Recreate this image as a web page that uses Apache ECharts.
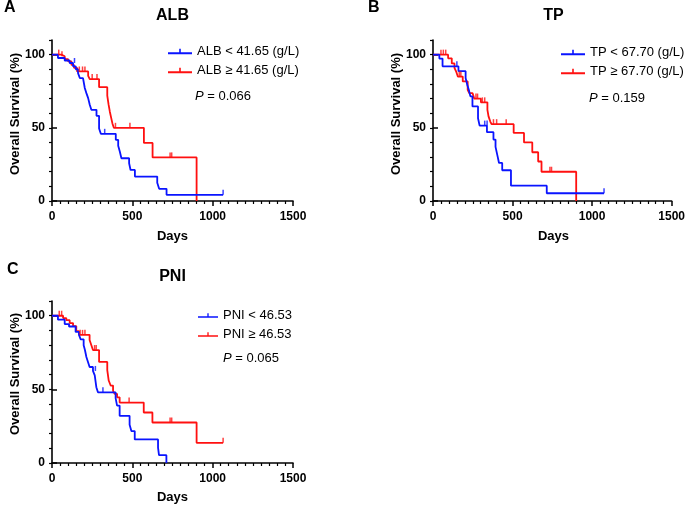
<!DOCTYPE html>
<html>
<head>
<meta charset="utf-8">
<title>Overall survival</title>
<script src="https://cdn.jsdelivr.net/npm/echarts@6/dist/echarts.min.js"></script>
<style>
    html, body { margin: 0; padding: 0; background: #fff; }
    #main { width: 688px; height: 506px; }
</style>
</head>
<body>
<div id="main"></div>
<script>
    // panel texts
    var panelTitles = ['ALB', 'TP', 'PNI'];
    var panelLetters = ['A', 'B', 'C'];
    var lowNames = ['ALB < 41.65 (g/L)', 'TP < 67.70 (g/L)', 'PNI < 46.53'];
    var highNames = ['ALB ≥ 41.65 (g/L)', 'TP ≥ 67.70 (g/L)', 'PNI ≥ 46.53'];
    var pValues = ['0.066', '0.159', '0.065'];
    var xTickValues = [0, 500, 1000, 1500];
    var yTickValues = [0, 50, 100];

    // KM steps: [day, survival %] after each drop
    var albLow = [[0, 100], [37, 97.7], [79, 96], [110, 94.3], [131, 92], [148, 90], [162, 87.4], [173, 84], [193, 82.9],
        [204, 77.2], [214, 73.7], [225, 70.3], [235, 65.8], [245, 62.3], [277, 58.2], [293, 49.5], [304, 45.9],
        [397, 41.8], [412, 37.7], [422, 33.8], [432, 29.2], [480, 25.8], [489, 21.2], [516, 16.7], [655, 12.5],
        [667, 8.3], [713, 4.2], [1065, 4.2]];
    var albHigh = [[0, 100], [58, 98.9], [79, 97], [100, 95.4], [121, 93], [137, 91], [156, 88.5], [225, 85.5],
        [235, 83.3], [293, 77.8], [344, 72], [352, 66], [360, 61], [368, 57], [376, 53], [385, 50], [572, 39.7],
        [626, 29.8], [900, 0]];
    var albLowCensor = [[140, 94.3], [328, 45.9], [1065, 4.2]];
    var albHighCensor = [[42, 100], [62, 98.9], [170, 88.5], [190, 88.5], [205, 88.5], [250, 83.3], [280, 83.3],
        [395, 50], [485, 50], [735, 29.8], [745, 29.8]];

    var tpLow = [[0, 100], [40, 97.3], [60, 92], [160, 88.7], [205, 84], [215, 79.5], [225, 76], [235, 71.5],
        [248, 64.6], [283, 56.5], [293, 51.5], [339, 47], [380, 42], [393, 37], [405, 31], [415, 26], [435, 21],
        [490, 10.5], [715, 5.3], [1075, 5.3]];
    var tpHigh = [[0, 100], [95, 97.5], [118, 94], [135, 91], [145, 88.6], [156, 85], [187, 81.7], [218, 76],
        [228, 73.7], [249, 72.6], [259, 70], [301, 67.4], [342, 62.3], [349, 57.8], [360, 54.3], [368, 52.5],
        [507, 46.5], [572, 40], [624, 33.3], [661, 27], [682, 20], [900, 0]];
    var tpLowCensor = [[150, 92], [325, 51.5], [340, 51.5], [1075, 5.3]];
    var tpHighCensor = [[50, 100], [65, 100], [80, 100], [165, 85], [175, 85], [270, 70], [280, 70], [310, 67.4],
        [325, 67.4], [380, 52.5], [400, 52.5], [460, 52.5], [735, 20], [745, 20]];

    var pniLow = [[0, 100], [37, 97.3], [79, 94.3], [106, 92.7], [147, 89], [168, 87], [178, 84], [197, 80],
        [205, 76.7], [214, 72], [224, 68.6], [234, 65.2], [255, 62.5], [266, 59.5], [276, 51.5], [286, 48],
        [396, 44], [405, 39], [421, 32], [483, 26], [494, 21.7], [515, 16], [660, 10.5], [666, 5.3], [712, 0]];
    var pniHigh = [[0, 100], [69, 98.4], [89, 97], [110, 95], [131, 93], [151, 89.5], [168, 87], [234, 83.5],
        [245, 80], [255, 76.7], [293, 68.6], [344, 63], [353, 56], [365, 52.6], [380, 49], [390, 47], [405, 44.6],
        [421, 41], [571, 34.3], [625, 27.5], [900, 13.7], [1065, 13.7]];
    var pniLowCensor = [[270, 62.5], [317, 48]];
    var pniHighCensor = [[45, 100], [60, 100], [175, 87], [190, 87], [205, 87], [265, 76.7], [275, 76.7],
        [480, 41], [735, 27.5], [745, 27.5], [1065, 13.7]];

    var lowCurves = [albLow, tpLow, pniLow];
    var highCurves = [albHigh, tpHigh, pniHigh];
    var lowCensors = [albLowCensor, tpLowCensor, pniLowCensor];
    var highCensors = [albHighCensor, tpHighCensor, pniHighCensor];

    var BLUE = '#0a14ff';
    var RED = '#ff1010';
    var FONT = 'Liberation Sans, Arial, sans-serif';

    var grids = [
        {left: 52, top: 40, width: 241, height: 161},
        {left: 433, top: 40, width: 241, height: 161},
        {left: 52, top: 301, width: 241, height: 162}
    ];
    var legendPos = [[168, 45], [561, 46], [198, 309]];
    var pPos = [[195, 96], [589, 98], [223, 358]];
    var letterPos = [[4, 8], [368, 8], [7, 270]];
    var titleY = [16, 16, 277];
    var daysY = [236, 236, 497];
    var yNameX = [15, 396, 15];
    var yNameY = [114, 114, 374];

    var xAxes = [], yAxes = [], series = [], legends = [], graphics = [];
    var axisColor = '#000';

    for (var i = 0; i < 3; i++) {
        xAxes.push({
            gridIndex: i, type: 'value', min: 0, max: 1500, interval: 500,
            axisLine: {lineStyle: {color: axisColor, width: 1.6}},
            axisTick: {length: 5, lineStyle: {color: axisColor, width: 1.5}},
            minorTick: {show: true, splitNumber: 10, length: 3, lineStyle: {color: axisColor, width: 1.2}},
            axisLabel: {
                color: '#000', fontWeight: 'bold', fontSize: 12, fontFamily: FONT, margin: 10,
                formatter: function (v) { return xTickValues.indexOf(v) >= 0 ? v : ''; }
            },
            splitLine: {show: false}, minorSplitLine: {show: false}
        });
        yAxes.push({
            gridIndex: i, type: 'value', min: 0, max: 110, interval: 10,
            axisLine: {onZero: false, lineStyle: {color: axisColor, width: 1.6}},
            axisTick: {length: 3, lineStyle: {color: axisColor, width: 1.2}},
            axisLabel: {
                color: '#000', fontWeight: 'bold', fontSize: 12, fontFamily: FONT, margin: 7,
                formatter: function (v) { return yTickValues.indexOf(v) >= 0 ? v : ''; }
            },
            splitLine: {show: false}
        });
    }
    // longer ticks on the labelled y values
    for (var i = 0; i < 3; i++) {
        yAxes.push({
            gridIndex: i, type: 'value', min: 0, max: 110, interval: 10,
            axisLine: {show: false},
            axisTick: {length: 5, lineStyle: {color: axisColor, width: 1.5}, customValues: yTickValues},
            axisLabel: {show: false},
            splitLine: {show: false}
        });
        series.push({
            name: lowNames[i], type: 'line', step: 'end', xAxisIndex: i, yAxisIndex: i,
            symbol: 'none', showSymbol: false, data: lowCurves[i],
            lineStyle: {color: BLUE, width: 1.8}, itemStyle: {color: BLUE}, z: 3
        });
        series.push({
            name: highNames[i], type: 'line', step: 'end', xAxisIndex: i, yAxisIndex: i,
            symbol: 'none', showSymbol: false, data: highCurves[i],
            lineStyle: {color: RED, width: 1.8}, itemStyle: {color: RED}, z: 2
        });
        series.push({
            name: 'lowCensor' + i, type: 'scatter', xAxisIndex: i, yAxisIndex: i, data: lowCensors[i],
            symbol: 'rect', symbolSize: [1.5, 5], symbolOffset: [0, -2.5], itemStyle: {color: BLUE}, z: 4
        });
        series.push({
            name: 'highCensor' + i, type: 'scatter', xAxisIndex: i, yAxisIndex: i, data: highCensors[i],
            symbol: 'rect', symbolSize: [1.5, 5], symbolOffset: [0, -2.5], itemStyle: {color: RED}, z: 4
        });
        legends.push({
            data: [lowNames[i], highNames[i]], orient: 'vertical',
            left: legendPos[i][0], top: legendPos[i][1],
            itemWidth: i == 2 ? 20 : 24, itemHeight: 7, itemGap: 6, padding: 0,
            icon: 'path://M0,5.5 L24,5.5 L24,7.5 L0,7.5 Z M11.2,2 L12.8,2 L12.8,7.5 L11.2,7.5 Z',
            textStyle: {color: '#000', fontSize: 13, fontFamily: FONT},
            selectedMode: false
        });

        var g = grids[i];
        var cx = g.left + g.width / 2;
        graphics.push({
            type: 'text', x: letterPos[i][0], y: letterPos[i][1],
            style: {text: panelLetters[i], font: 'bold 16px ' + FONT, fill: '#000', verticalAlign: 'middle'}
        });
        graphics.push({
            type: 'text', x: cx, y: titleY[i],
            style: {text: panelTitles[i], font: 'bold 16px ' + FONT, fill: '#000', align: 'center', verticalAlign: 'middle'}
        });
        graphics.push({
            type: 'text', x: cx, y: daysY[i],
            style: {text: 'Days', font: 'bold 13px ' + FONT, fill: '#000', align: 'center', verticalAlign: 'middle'}
        });
        graphics.push({
            type: 'text', x: yNameX[i], y: yNameY[i], rotation: Math.PI / 2,
            style: {text: 'Overall Survival (%)', font: 'bold 13px ' + FONT, fill: '#000', align: 'center', verticalAlign: 'middle'}
        });
        graphics.push({
            type: 'text', x: pPos[i][0], y: pPos[i][1],
            style: {
                text: '{i|P} = ' + pValues[i], font: '13px ' + FONT, fill: '#000', verticalAlign: 'middle',
                rich: {i: {fontStyle: 'italic', fontSize: 13, fontFamily: FONT, fill: '#000'}}
            }
        });
    }

    var myChart = echarts.init(document.getElementById('main'));
    myChart.setOption({
        animation: false,
        backgroundColor: '#fff',
        grid: grids,
        xAxis: xAxes,
        yAxis: yAxes,
        legend: legends,
        series: series,
        graphic: graphics
    });
</script>
</body>
</html>
